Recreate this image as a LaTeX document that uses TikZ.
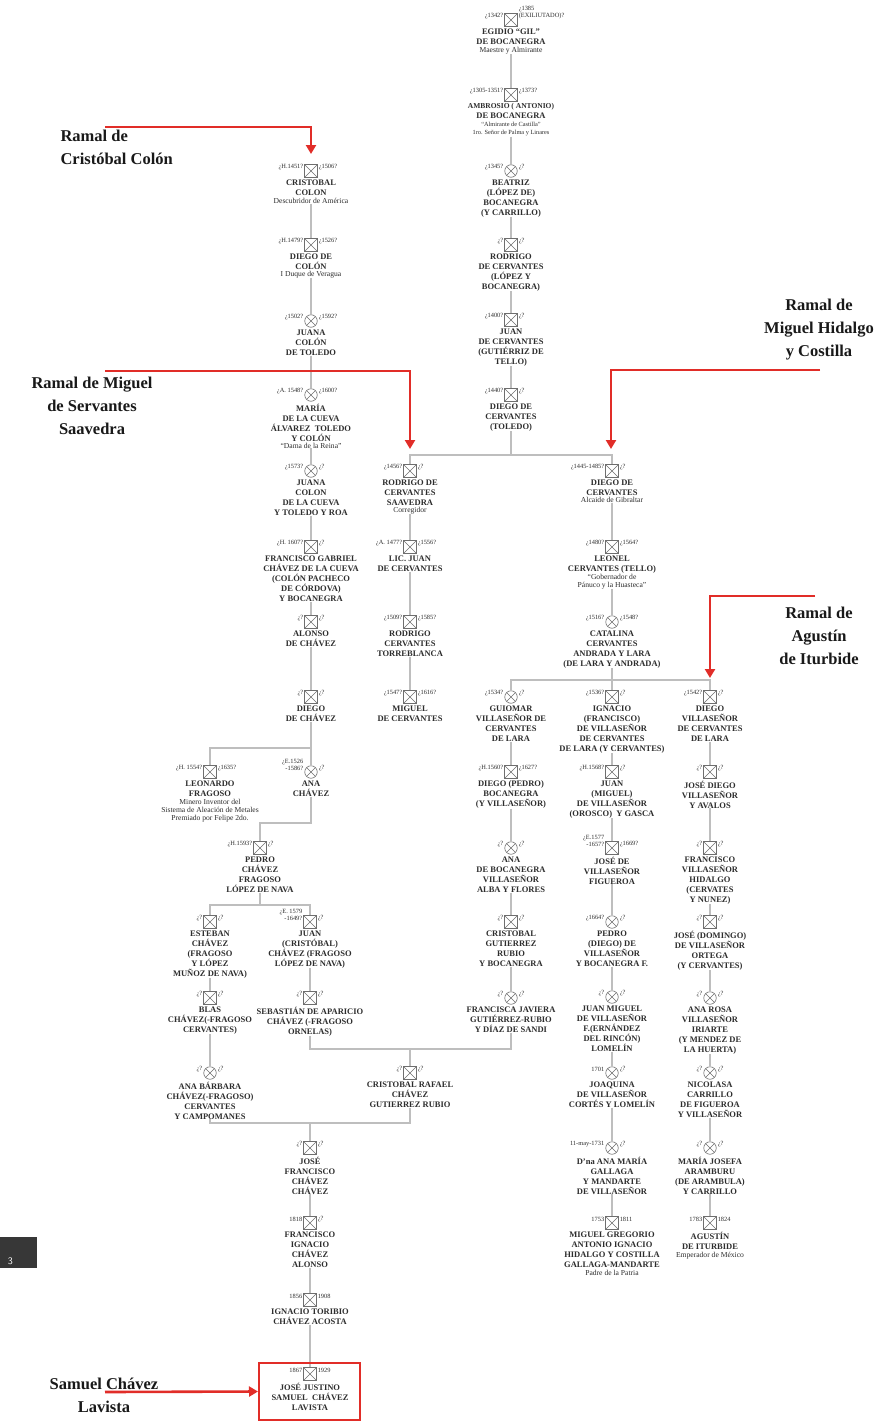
\documentclass[tikz,border=0pt]{standalone}
\usepackage{fontspec}
\setmainfont{Liberation Serif}
\usepackage{tikz}
\usetikzlibrary{arrows.meta,positioning}
\definecolor{ramalred}{RGB}{225,45,40}
\definecolor{linegray}{RGB}{190,190,190}
\definecolor{symgray}{RGB}{110,110,110}
\definecolor{inkgray}{RGB}{45,45,45}
\definecolor{tabgray}{RGB}{55,55,55}

\newcommand{\nota}[1]{{\fontsize{7.6}{8}\selectfont\mdseries #1}}
\newcommand{\notita}[1]{{\fontsize{6.3}{6.5}\selectfont\mdseries #1}}
% id, posicion, simbolo, fecha izq., fecha der., nombre
\newcommand{\persona}[6]{%
  \node[#3] (#1) at (#2) {};
  \node[fechaizq] (#1-i) at (#1.west) {#4};
  \node[fechader] (#1-d) at (#1.east) {#5};
  \node[nombre, below=2pt of #1] (#1-t) {#6};
}

\begin{document}
\begin{tikzpicture}[
    x=1pt, y=-1pt,
    simbolo/.style={draw=symgray, line width=.6pt, minimum size=12.5pt, inner sep=0pt, fill=white,
                path picture={\draw[symgray, line width=.5pt]
                  (path picture bounding box.south west) -- (path picture bounding box.north east)
                  (path picture bounding box.north west) -- (path picture bounding box.south east);}},
    hombre/.style={simbolo, rectangle},
    mujer/.style={simbolo, circle},
    fechaizq/.style={anchor=south east, font=\fontsize{6.4}{6.8}\selectfont, text=inkgray, inner sep=1pt, align=right},
    fechader/.style={anchor=south west, font=\fontsize{6.4}{6.8}\selectfont, text=inkgray, inner sep=1pt, align=left},
    nombre/.style={font=\fontsize{8.5}{10}\selectfont\bfseries, text=inkgray, align=center, inner sep=0pt},
    linea/.style={draw=linegray, line width=1.8pt},
    ramal/.style={font=\fontsize{16.5}{23}\selectfont\bfseries, text=black!90, align=center},
    flecha/.style={draw=ramalred, line width=2.6pt, -{Triangle[length=9pt,width=10pt]}}
]
\fill[white] (0,0) rectangle (896,1421);
\useasboundingbox (0,0) rectangle (896,1421);

% tronco central
\persona{egidio}{511,20}{hombre}{¿1342?}{¿1385\\(EXILIUTADO)?}{EGIDIO “GIL”\\DE BOCANEGRA\\[-2pt]\nota{Maestre y Almirante}}
\persona{ambrosio}{511,95}{hombre}{¿1305-1351?}{¿1373?}{\fontsize{7.5}{8.5}\selectfont AMBROSIO ( ANTONIO)\\DE BOCANEGRA\\[-2pt]\notita{“Almirante de Castilla”}\\[-2pt]\notita{1ro. Señor de Palma y Linares}}
\persona{beatriz}{511,171}{mujer}{¿1345?}{¿?}{BEATRIZ\\(LÓPEZ DE)\\BOCANEGRA\\(Y CARRILLO)}
\persona{rodrigo}{511,245}{hombre}{¿?}{¿?}{RODRIGO\\DE CERVANTES\\(LÓPEZ Y\\BOCANEGRA)}
\persona{juan}{511,320}{hombre}{¿1400?}{¿?}{JUAN\\DE CERVANTES\\(GUTIÉRRIZ DE\\TELLO)}
\persona{diegot}{511,395}{hombre}{¿1440?}{¿?}{DIEGO DE\\CERVANTES\\(TOLEDO)}

% ramal Colon
\persona{cristobal}{311,171}{hombre}{¿H.1451?}{¿1506?}{CRISTOBAL\\COLON\\[-2pt]\nota{Descubridor de América}}
\persona{diegoc}{311,245}{hombre}{¿H.1479?}{¿1526?}{DIEGO DE\\COLÓN\\[-3pt]\nota{I Duque de Veragua}}
\persona{juanac}{311,321}{mujer}{¿1502?}{¿1592?}{JUANA\\COLÓN\\DE TOLEDO}
\persona{maria}{311,395}{mujer}{¿A. 1548?}{¿1600?}{MARÍA\\DE LA CUEVA\\ÁLVAREZ~~TOLEDO\\Y COLÓN\\[-3pt]\nota{“Dama de la Reina”}}
\persona{juanacu}{311,471}{mujer}{¿1573?}{¿?}{JUANA\\COLON\\DE LA CUEVA\\Y TOLEDO Y ROA}
\persona{franciscog}{311,547}{hombre}{¿H. 1607?}{¿?}{FRANCISCO GABRIEL\\CHÁVEZ DE LA CUEVA\\(COLÓN PACHECO\\DE CÓRDOVA)\\Y BOCANEGRA}
\persona{alonso}{311,622}{hombre}{¿?}{¿?}{ALONSO\\DE CHÁVEZ}
\persona{diegoch}{311,697}{hombre}{¿?}{¿?}{DIEGO\\DE CHÁVEZ}
\persona{leonardo}{210,772}{hombre}{¿H. 1554?}{¿1635?}{LEONARDO\\FRAGOSO\\[-2pt]\nota{Minero Inventor del}\\[-2pt]\nota{Sistema de Aleación de Metales}\\[-2pt]\nota{Premiado por Felipe 2do.}}
\persona{anach}{311,772}{mujer}{¿E.1526\\-1586?}{¿?}{ANA\\CHÁVEZ}
\persona{pedro}{260,848}{hombre}{¿H.1593?}{¿?}{PEDRO\\CHÁVEZ\\FRAGOSO\\LÓPEZ DE NAVA}
\persona{esteban}{210,922}{hombre}{¿?}{¿?}{ESTEBAN\\CHÁVEZ\\(FRAGOSO\\Y LÓPEZ\\MUÑOZ DE NAVA)}
\persona{juancr}{310,922}{hombre}{¿E. 1579\\-1649?}{¿?}{JUAN\\(CRISTÓBAL)\\CHÁVEZ (FRAGOSO\\LÓPEZ DE NAVA)}
\persona{blas}{210,998}{hombre}{¿?}{¿?}{BLAS\\CHÁVEZ(-FRAGOSO\\CERVANTES)}
\persona{sebastian}{310,998}{hombre}{¿?}{¿?}{SEBASTIÁN DE APARICIO\\CHÁVEZ (-FRAGOSO\\ORNELAS)}
\persona{anab}{210,1073}{mujer}{¿?}{¿?}{ANA BÁRBARA\\CHÁVEZ(-FRAGOSO)\\CERVANTES\\Y CAMPOMANES}
\persona{cristobalr}{410,1073}{hombre}{¿?}{¿?}{CRISTOBAL RAFAEL\\CHÁVEZ\\GUTIERREZ RUBIO}
\persona{josef}{310,1148}{hombre}{¿?}{¿?}{JOSÉ\\FRANCISCO\\CHÁVEZ\\CHÁVEZ}
\persona{franciscoi}{310,1223}{hombre}{1818}{¿?}{FRANCISCO\\IGNACIO\\CHÁVEZ\\ALONSO}
\persona{ignaciot}{310,1300}{hombre}{1856}{1908}{IGNACIO TORIBIO\\CHÁVEZ ACOSTA}
\persona{samuel}{310,1374}{hombre}{1867}{1929}{JOSÉ JUSTINO\\SAMUEL~~CHÁVEZ\\LAVISTA}

% ramal Cervantes Saavedra
\persona{rodrigos}{410,471}{hombre}{¿1456?}{¿?}{RODRIGO DE\\CERVANTES\\SAAVEDRA\\[-3pt]\nota{Corregidor}}
\persona{licjuan}{410,547}{hombre}{¿A. 1477?}{¿1556?}{LIC. JUAN\\DE CERVANTES}
\persona{rodrigot}{410,622}{hombre}{¿1509?}{¿1585?}{RODRIGO\\CERVANTES\\TORREBLANCA}
\persona{miguel}{410,697}{hombre}{¿1547?}{¿1616?}{MIGUEL\\DE CERVANTES}

% ramal Hidalgo e Iturbide
\persona{diegoa}{612,471}{hombre}{¿1445-1485?}{¿?}{DIEGO DE\\CERVANTES\\[-3pt]\nota{Alcaide de Gibraltar}}
\persona{leonel}{612,547}{hombre}{¿1480?}{¿1564?}{LEONEL\\CERVANTES (TELLO)\\[-2pt]\nota{“Gobernador de}\\[-2pt]\nota{Pánuco y la Huasteca”}}
\persona{catalina}{612,622}{mujer}{¿1516?}{¿1548?}{CATALINA\\CERVANTES\\ANDRADA Y LARA\\(DE LARA Y ANDRADA)}
\persona{guiomar}{511,697}{mujer}{¿1534?}{¿?}{GUIOMAR\\VILLASEÑOR DE\\CERVANTES\\DE LARA}
\persona{ignacio}{612,697}{hombre}{¿1536?}{¿?}{IGNACIO\\(FRANCISCO)\\DE VILLASEÑOR\\DE CERVANTES\\DE LARA (Y CERVANTES)}
\persona{diegov}{710,697}{hombre}{¿1542?}{¿?}{DIEGO\\VILLASEÑOR\\DE CERVANTES\\DE LARA}

\persona{diegop}{511,772}{hombre}{¿H.1560?}{¿1627?}{DIEGO (PEDRO)\\BOCANEGRA\\(Y VILLASEÑOR)}
\persona{anabo}{511,848}{mujer}{¿?}{¿?}{ANA\\DE BOCANEGRA\\VILLASEÑOR\\ALBA Y FLORES}
\persona{cristobalg}{511,922}{hombre}{¿?}{¿?}{CRISTOBAL\\GUTIERREZ\\RUBIO\\Y BOCANEGRA}
\persona{francisca}{511,998}{mujer}{¿?}{¿?}{FRANCISCA JAVIERA\\GUTIÉRREZ-RUBIO\\Y DÍAZ DE SANDI}

\persona{juanm}{612,772}{hombre}{¿H.1568?}{¿?}{JUAN\\(MIGUEL)\\DE VILLASEÑOR\\(OROSCO)~~Y GASCA}
\persona{josev}{612,848}{hombre}{¿E.1577\\-1657?}{¿1669?}{JOSÉ DE\\VILLASEÑOR\\FIGUEROA}
\persona{pedrod}{612,922}{mujer}{¿1664?}{¿?}{PEDRO\\(DIEGO) DE\\VILLASEÑOR\\Y BOCANEGRA F.}
\persona{juanmi}{612,997}{mujer}{¿?}{¿?}{JUAN MIGUEL\\DE VILLASEÑOR\\F.(ERNÁNDEZ\\DEL RINCÓN)\\LOMELÍN}
\persona{joaquina}{612,1073}{mujer}{1701}{¿?}{JOAQUINA\\DE VILLASEÑOR\\CORTÉS Y LOMELÍN}
\persona{anamaria}{612,1148}{mujer}{11-may-1731}{¿?}{D'na ANA MARÍA\\GALLAGA\\Y MANDARTE\\DE VILLASEÑOR}
\persona{hidalgo}{612,1223}{hombre}{1753}{1811}{MIGUEL GREGORIO\\ANTONIO IGNACIO\\HIDALGO Y COSTILLA\\GALLAGA-MANDARTE\\[-2pt]\nota{Padre de la Patria}}

\persona{josed}{710,772}{hombre}{¿?}{¿?}{JOSÉ DIEGO\\VILLASEÑOR\\Y AVALOS}
\persona{franciscov}{710,848}{hombre}{¿?}{¿?}{FRANCISCO\\VILLASEÑOR\\HIDALGO\\(CERVATES\\Y NUNEZ)}
\persona{josedo}{710,922}{hombre}{¿?}{¿?}{JOSÉ (DOMINGO)\\DE VILLASEÑOR\\ORTEGA\\(Y CERVANTES)}
\persona{anarosa}{710,998}{mujer}{¿?}{¿?}{ANA ROSA\\VILLASEÑOR\\IRIARTE\\(Y MENDEZ DE\\LA HUERTA)}
\persona{nicolasa}{710,1073}{mujer}{¿?}{¿?}{NICOLASA\\CARRILLO\\DE FIGUEROA\\Y VILLASEÑOR}
\persona{mariaj}{710,1148}{mujer}{¿?}{¿?}{MARÍA JOSEFA\\ARAMBURU\\(DE ARAMBULA)\\Y CARRILLO}
\persona{agustin}{710,1223}{hombre}{1783}{1824}{AGUSTÍN\\DE ITURBIDE\\[-2pt]\nota{Emperador de México}}

% lineas de descendencia
\foreach \a/\b in {egidio/ambrosio, ambrosio/beatriz, beatriz/rodrigo, rodrigo/juan, juan/diegot,
    cristobal/diegoc, diegoc/juanac, juanac/maria, maria/juanacu, juanacu/franciscog,
    franciscog/alonso, alonso/diegoch, rodrigos/licjuan, licjuan/rodrigot, rodrigot/miguel,
    diegoa/leonel, leonel/catalina, guiomar/diegop, diegop/anabo, anabo/cristobalg,
    cristobalg/francisca, ignacio/juanm, juanm/josev, josev/pedrod, pedrod/juanmi,
    juanmi/joaquina, joaquina/anamaria, anamaria/hidalgo, diegov/josed, josed/franciscov,
    franciscov/josedo, josedo/anarosa, anarosa/nicolasa, nicolasa/mariaj, mariaj/agustin,
    esteban/blas, blas/anab, juancr/sebastian, josef/franciscoi, franciscoi/ignaciot,
    ignaciot/samuel}
  \draw[linea] (\a-t.south) -- (\b.north);

\coordinate (bar1) at (511,455);
\draw[linea] (diegot-t.south) -- (bar1);
\draw[linea] (bar1) -| (rodrigos.north);
\draw[linea] (bar1) -| (diegoa.north);
\coordinate (bar2) at (612,680);
\draw[linea] (catalina-t.south) -- (bar2) -- (ignacio.north);
\draw[linea] (bar2) -| (guiomar.north);
\draw[linea] (bar2) -| (diegov.north);
\coordinate (bar3) at (311,748);
\draw[linea] (diegoch-t.south) -- (bar3) -- (anach.north);
\draw[linea] (bar3) -| (leonardo.north);
\coordinate (bar4) at (311,823);
\draw[linea] (anach-t.south) -- (bar4) -| (pedro.north);
\coordinate (bar5) at (260,905);
\draw[linea] (pedro-t.south) -- (bar5);
\draw[linea] (bar5) -| (esteban.north);
\draw[linea] (bar5) -| (juancr.north);
\coordinate (bar6) at (410,1049);
\draw[linea] (sebastian-t.south) |- (bar6);
\draw[linea] (francisca-t.south) |- (bar6);
\draw[linea] (bar6) -- (cristobalr.north);
\coordinate (bar7) at (310,1123);
\draw[linea] (anab-t.south) |- (bar7);
\draw[linea] (cristobalr-t.south) |- (bar7);
\draw[linea] (bar7) -- (josef.north);

% ramales
\node[ramal, align=left, anchor=west] (rcolon) at (57,147) {Ramal de\\Cristóbal Colón};
\node[ramal] (rcervantes) at (92,406) {Ramal de Miguel\\de Servantes\\Saavedra};
\node[ramal] (rhidalgo) at (819,330) {Ramal de\\Miguel Hidalgo\\y Costilla};
\node[ramal] (riturbide) at (819,636) {Ramal de\\Agustín\\de Iturbide};
\node[ramal] (rsamuel) at (104,1395) {Samuel Chávez\\Lavista};
\node[draw=ramalred, line width=2pt, minimum width=101pt, minimum height=57pt] (caja) at (309.5,1391.5) {};

\coordinate (f1) at (105,127);
\coordinate (f1t) at (311,154);
\draw[flecha] (f1) -| (f1t);
\coordinate (f2) at (105,371);
\coordinate (f2t) at (410,449);
\draw[flecha] (f2) -| (f2t);
\coordinate (f3) at (820,370);
\coordinate (f3t) at (611,449);
\draw[flecha] (f3) -| (f3t);
\coordinate (f4) at (815,596);
\coordinate (f4t) at (710,678);
\draw[flecha] (f4) -| (f4t);
\coordinate (f5) at (105,1392);
\draw[flecha] (f5) -- (caja.west);

% pestaña de pagina
\node[fill=tabgray, minimum width=37pt, minimum height=31pt, inner sep=0pt] (pestana) at (18.5,1252.5) {};
\node[text=white, font=\sffamily\fontsize{10}{10}\selectfont, anchor=south west, inner sep=0pt] (pagina) at ([xshift=8pt,yshift=3pt]pestana.south west) {3};
\end{tikzpicture}
\end{document}
